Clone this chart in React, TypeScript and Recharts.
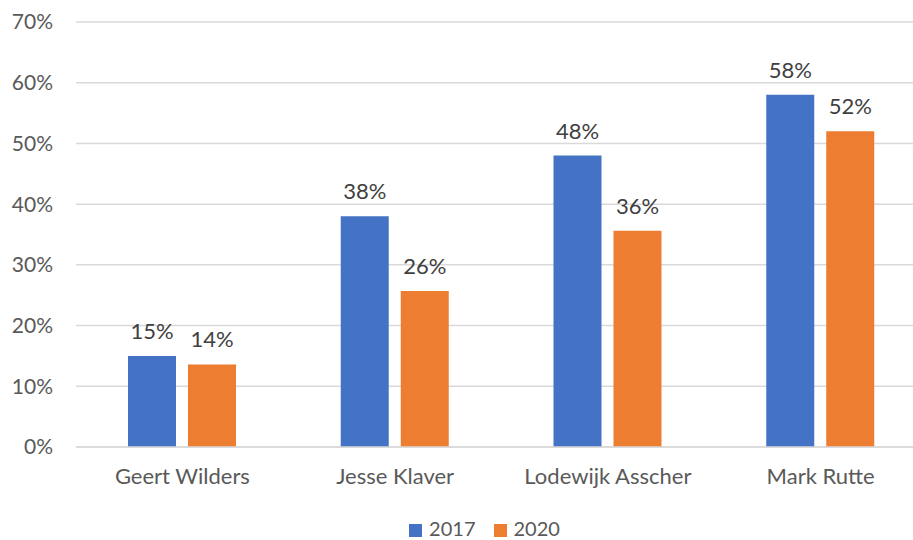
import { Bar, BarChart, CartesianGrid, LabelList, Legend, XAxis, YAxis } from "recharts";

const names = ["Geert Wilders", "Jesse Klaver", "Lodewijk Asscher", "Mark Rutte"];
const values2017 = [15, 38, 48, 58];
const values2020 = [13.6, 25.7, 35.6, 52];
const yTicks = [0, 10, 20, 30, 40, 50, 60, 70];

const data = names.map((name, i) => ({
  name,
  y2017: values2017[i],
  y2020: values2020[i],
}));

const FONT = "Lato, 'Open Sans', sans-serif";

// plot area runs a little past the right edge, like the original
export default function App() {
  return (
    <div
      style={{
        position: "absolute",
        left: 0,
        top: 0,
        width: 913,
        height: 540,
        overflow: "hidden",
        background: "#fff",
      }}
    >
      <BarChart
        width={927}
        height={540}
        data={data}
        margin={{ top: 22, right: 0, left: 0, bottom: 0 }}
        barCategoryGap={52}
        barGap={12}
        style={{ fontFamily: FONT }}
      >
        <CartesianGrid vertical={false} stroke="#d9d9d9" strokeWidth={1.5} />
        <XAxis
          dataKey="name"
          tickLine={false}
          axisLine={{ stroke: "#d9d9d9", strokeWidth: 1.5 }}
          tick={{ fill: "#595959", fontSize: 22 }}
          tickMargin={15}
          height={69}
        />
        <YAxis
          domain={[0, 70]}
          ticks={yTicks}
          tickFormatter={(v) => `${v}%`}
          axisLine={false}
          tickLine={false}
          tickSize={0}
          tickMargin={23}
          width={76}
          tick={{ fill: "#595959", fontSize: 21 }}
        />
        <Legend
          verticalAlign="bottom"
          iconType="square"
          iconSize={13}
          wrapperStyle={{ fontSize: 20, paddingLeft: 30, bottom: 0 }}
          formatter={(v) => <span style={{ color: "#595959", marginLeft: 3, marginRight: 8 }}>{v}</span>}
        />
        <Bar dataKey="y2017" name="2017" fill="#4472C4" isAnimationActive={false}>
          <LabelList
            dataKey="y2017"
            position="top"
            offset={17}
            formatter={(v: number) => `${Math.round(v)}%`}
            style={{ fill: "#404040", fontSize: 22 }}
          />
        </Bar>
        <Bar dataKey="y2020" name="2020" fill="#ED7D31" isAnimationActive={false}>
          <LabelList
            dataKey="y2020"
            position="top"
            offset={17}
            formatter={(v: number) => `${Math.round(v)}%`}
            style={{ fill: "#404040", fontSize: 22 }}
          />
        </Bar>
      </BarChart>
    </div>
  );
}
